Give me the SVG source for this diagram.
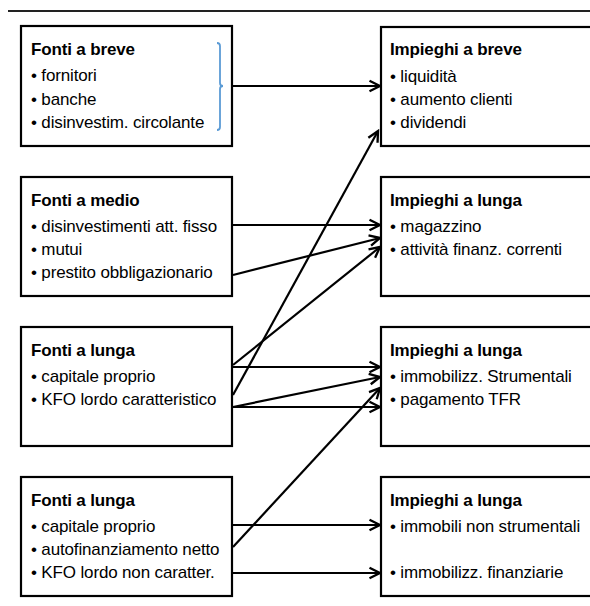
<svg xmlns="http://www.w3.org/2000/svg" width="590" height="606" viewBox="0 0 590 606">
<defs>
<marker id="arr" markerUnits="userSpaceOnUse" markerWidth="14" markerHeight="14" viewBox="0 0 12 12" refX="10" refY="6" orient="auto">
<path d="M1,1.5 L10,6 L1,10.5" fill="none" stroke="#000" stroke-width="2"/>
</marker>
<style>
.box{fill:#fff;stroke:#000;stroke-width:2.2}
.t{font-family:"Liberation Sans",Arial,sans-serif;font-size:17px;letter-spacing:-0.15px;fill:#000}
.b{font-weight:bold}
.c{stroke:#000;stroke-width:2.2;fill:none;marker-end:url(#arr)}
</style>
</defs>
<rect width="590" height="606" fill="#fff"/>
<line x1="8" y1="11" x2="590" y2="11" stroke="#222" stroke-width="2"/>

<g id="fonti-breve">
<rect class="box" x="21" y="26" width="211" height="120"/>
<text class="t b" x="31" y="55">Fonti a breve</text>
<text class="t" x="31" y="81">• fornitori</text>
<text class="t" x="31" y="104.5">• banche</text>
<text class="t" x="31" y="128">• disinvestim. circolante</text>
<path d="M217,43 Q220,43 220,46 L220,83 Q220,86 223,86 Q220,86 220,89 L220,127 Q220,130 217,130" fill="none" stroke="#5b9bd5" stroke-width="1.8"/>
</g>

<g id="fonti-medio">
<rect class="box" x="21" y="177" width="211" height="119"/>
<text class="t b" x="31" y="206">Fonti a medio</text>
<text class="t" x="31" y="231.5">• disinvestimenti att. fisso</text>
<text class="t" x="31" y="254.5">• mutui</text>
<text class="t" x="31" y="278">• prestito obbligazionario</text>
</g>

<g id="fonti-lunga-1">
<rect class="box" x="21" y="327" width="211" height="119"/>
<text class="t b" x="31" y="356">Fonti a lunga</text>
<text class="t" x="31" y="381.5">• capitale proprio</text>
<text class="t" x="31" y="405">• KFO lordo caratteristico</text>
</g>

<g id="fonti-lunga-2">
<rect class="box" x="21" y="477" width="211" height="119"/>
<text class="t b" x="31" y="506">Fonti a lunga</text>
<text class="t" x="31" y="531.5">• capitale proprio</text>
<text class="t" x="31" y="555">• autofinanziamento netto</text>
<text class="t" x="31" y="578">• KFO lordo non caratter.</text>
</g>

<g id="impieghi-breve">
<rect class="box" x="381" y="27" width="230" height="119"/>
<text class="t b" x="390" y="55">Impieghi a breve</text>
<text class="t" x="390" y="81.5">• liquidità</text>
<text class="t" x="390" y="104.5">• aumento clienti</text>
<text class="t" x="390" y="128">• dividendi</text>
</g>

<g id="impieghi-lunga-1">
<rect class="box" x="381" y="177" width="230" height="119"/>
<text class="t b" x="390" y="206">Impieghi a lunga</text>
<text class="t" x="390" y="231.5">• magazzino</text>
<text class="t" x="390" y="255">• attività finanz. correnti</text>
</g>

<g id="impieghi-lunga-2">
<rect class="box" x="381" y="327" width="230" height="119"/>
<text class="t b" x="390" y="356">Impieghi a lunga</text>
<text class="t" x="390" y="381.5">• immobilizz. Strumentali</text>
<text class="t" x="390" y="405">• pagamento TFR</text>
</g>

<g id="impieghi-lunga-3">
<rect class="box" x="381" y="477" width="230" height="119"/>
<text class="t b" x="390" y="506">Impieghi a lunga</text>
<text class="t" x="390" y="531.5">• immobili non strumentali</text>
<text class="t" x="390" y="578">• immobilizz. finanziarie</text>
</g>

<g id="connectors">
<line class="c" x1="233" y1="86" x2="380" y2="86"/>
<line class="c" x1="233" y1="225" x2="380" y2="225"/>
<line class="c" x1="233" y1="275" x2="380" y2="238"/>
<line class="c" x1="233" y1="365" x2="380" y2="247"/>
<line class="c" x1="233" y1="395" x2="378" y2="131"/>
<line class="c" x1="233" y1="367" x2="380" y2="367"/>
<line class="c" x1="233" y1="407" x2="380" y2="377"/>
<line class="c" x1="233" y1="407" x2="380" y2="407"/>
<line class="c" x1="233" y1="547" x2="380" y2="388"/>
<line class="c" x1="233" y1="525" x2="380" y2="525"/>
<line class="c" x1="233" y1="573" x2="380" y2="573"/>
</g>
</svg>
